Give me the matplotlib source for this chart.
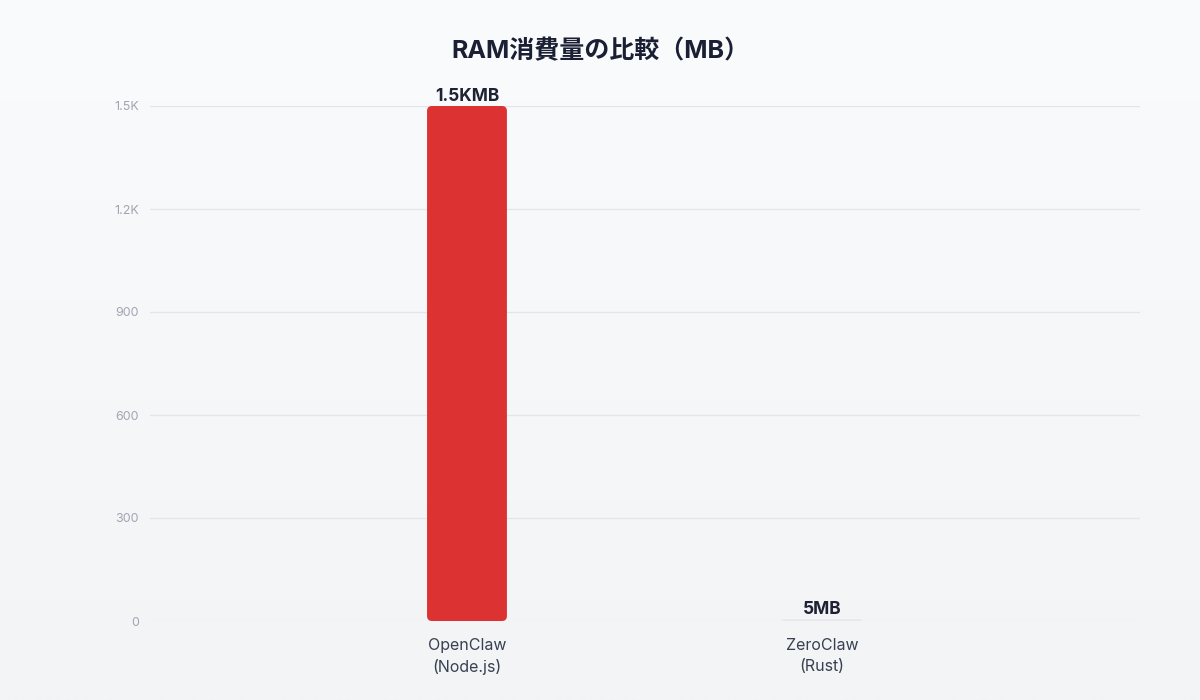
import numpy as np
import matplotlib as mpl
import matplotlib.pyplot as plt
from matplotlib.patches import FancyBboxPatch
from matplotlib.ticker import FuncFormatter

mpl.use('Agg')
plt.rcParams['font.family'] = ['Inter', 'Noto Sans CJK JP', 'DejaVu Sans']

# Data
categories = ['OpenClaw\n(Node.js)', 'ZeroClaw\n(Rust)']
ram_mb = [1500, 5]
value_labels = ['1.5KMB', '5MB']
bar_colors = ['#dc3232', '#e6e8ec']
y_ticks = [0, 300, 600, 900, 1200, 1500]

fig = plt.figure(figsize=(12, 7), dpi=100)

# background gradient (top lighter, bottom slightly greyer)
bg = fig.add_axes([0, 0, 1, 1], zorder=-10)
grad = np.linspace(0, 1, 256).reshape(-1, 1)
top = np.array([250, 251, 253]) / 255
bot = np.array([243, 244, 246]) / 255
img = top + (bot - top) * grad[:, :, None]
bg.imshow(img, aspect='auto', extent=[0, 1, 0, 1])
bg.axis('off')

ax = fig.add_axes([0.125, 1 - 621 / 700, 0.825, 515 / 700])
ax.set_facecolor('none')

x = np.arange(len(categories))
bar_w = 0.225
xmin, xmax = -0.893, 1.896
ymin, ymax = 0, 1500
ax.set_xlim(xmin, xmax)
ax.set_ylim(ymin, ymax)

# rounded bars
px_x = (xmax - xmin) / 990   # x units per pixel
px_y = (ymax - ymin) / 515   # y units per pixel
aspect = px_y / px_x
for xi, v, c, lab in zip(x, ram_mb, bar_colors, value_labels):
    r = min(5 * px_x, bar_w / 2, v / aspect / 2)
    p = FancyBboxPatch((xi - bar_w / 2, 0), bar_w, v,
                       boxstyle=f'round,pad=0,rounding_size={r}',
                       mutation_aspect=aspect, fc=c, ec='none', zorder=3)
    ax.add_patch(p)
    ax.text(xi, v + 1 * px_y, lab, ha='center', va='bottom',
            fontsize=12.5, fontweight='bold', color='#1e2233', zorder=4)

ax.set_yticks(y_ticks)
ax.yaxis.set_major_formatter(FuncFormatter(
    lambda v, pos: f'{v / 1000:g}K' if v >= 1000 else f'{v:g}'))
ax.set_xticks(x)
ax.set_xticklabels(categories, fontsize=11.5, color='#374151', linespacing=1.5)
ax.tick_params(axis='y', length=0, pad=8, labelsize=9, labelcolor='#a0a6b1')
ax.tick_params(axis='x', length=0, pad=12)
ax.grid(axis='y', color='#e3e5ea', linewidth=0.9, zorder=0)
for s in ax.spines.values():
    s.set_visible(False)

fig.text(0.5, 1 - 51 / 700, 'RAM消費量の比較（MB）', ha='center', va='center',
         fontsize=18, fontweight='bold', color='#1a1f33')

plt.savefig('out.png', dpi=100)
